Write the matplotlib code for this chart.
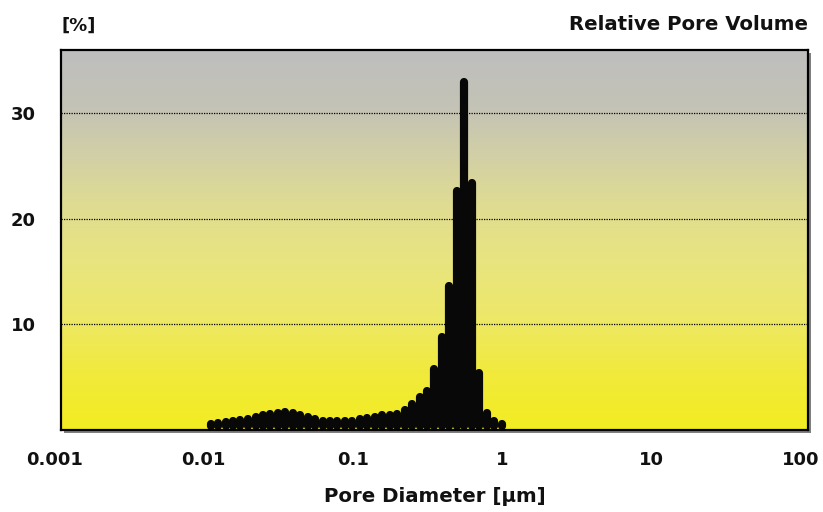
import numpy as np
import matplotlib
matplotlib.use("Agg")
import matplotlib.pyplot as plt
from matplotlib.patches import Rectangle
from matplotlib.transforms import ScaledTranslation

plt.rcParams['font.family'] = ['DejaVu Sans']
plt.rcParams['font.weight'] = 'bold'

# ---- data ----
diameters = [0.0100, 0.0112, 0.0126, 0.0141, 0.0158, 0.0178, 0.0200, 0.0224, 0.0251, 0.0282,
             0.0316, 0.0355, 0.0398, 0.0447, 0.0501, 0.0562, 0.0631, 0.0708, 0.0794, 0.0891,
             0.100, 0.112, 0.126, 0.141, 0.158, 0.178, 0.200, 0.224, 0.251, 0.282,
             0.316, 0.355, 0.398, 0.447, 0.501, 0.562, 0.631, 0.708, 0.794, 0.891, 1.000]
rel_volume = [0.60, 0.66, 0.75, 0.82, 0.92, 1.04, 1.27, 1.39, 1.48, 1.60,
              1.66, 1.60, 1.45, 1.25, 1.00, 0.88, 0.84, 0.82, 0.82, 0.88,
              1.00, 1.17, 1.27, 1.40, 1.40, 1.55, 1.90, 2.50, 3.10, 3.70,
              5.80, 8.80, 13.6, 22.6, 33.0, 23.4, 5.40, 1.60, 0.85, 0.54, 0.38]
x_ticks = [0.001, 0.01, 0.1, 1, 10, 100]
x_tick_labels = ['0.001', '0.01', '0.1', '1', '10', '100']
y_ticks = [10, 20, 30]
y_tick_labels = ['10', '20', '30']

W, H = 823, 512
fig = plt.figure(figsize=(W / 100, H / 100), dpi=100)
fig.patch.set_facecolor('white')

L, R, T, B = 61.3, 807.7, 50.0, 430.0
ax_rect = [L / W, (H - B) / H, (R - L) / W, (B - T) / H]

# shadow behind frame
shadow = Rectangle((ax_rect[0] + 3 / W, ax_rect[1] - 3 / H), ax_rect[2], ax_rect[3],
                   transform=fig.transFigure, facecolor='#808080', edgecolor='none', zorder=-1)
fig.add_artist(shadow)

ax = fig.add_axes(ax_rect)
ax.set_xscale('log')

# gradient background (bottom -> top)
stops = [0.0, 0.15, 0.30, 0.45, 0.58, 0.72, 0.85, 1.0]
cols = np.array([(243, 237, 33), (241, 234, 60), (237, 232, 105), (232, 228, 128),
                 (224, 221, 145), (210, 208, 165), (196, 195, 182), (190, 190, 190)]) / 255.0
n = 400
t = np.linspace(0, 1, n)
grad = np.stack([np.interp(t, stops, cols[:, c]) for c in range(3)], axis=1)[:, None, :]
ax.imshow(grad, extent=(0, 1, 0, 1), transform=ax.transAxes, aspect='auto',
          origin='lower', zorder=0, interpolation='bilinear')

# bars as thick round-capped lines
lw_px = 8.2
r_units = (lw_px / 2) / ((B - T) / 36.0)
lc = ax.vlines(diameters, r_units, rel_volume, colors='#080808', linewidth=lw_px * 0.72, zorder=3)
lc.set_capstyle('round')
lc.set_antialiased(True)

ax.set_xlim(0.001, 100)
ax.set_ylim(0, 36)

ax.set_axisbelow(True)
ax.yaxis.grid(True, linestyle=(0, (1, 1)), color='black', linewidth=0.9)
ax.xaxis.grid(False)

ax.set_xticks(x_ticks)
ax.set_xticklabels(x_tick_labels)
ax.set_xticks([], minor=True)
ax.set_yticks(y_ticks)
ax.set_yticklabels(y_tick_labels)
ax.tick_params(axis='both', which='both', length=0, labelsize=13, labelcolor='#111111')
ax.tick_params(axis='x', pad=15)
ax.tick_params(axis='y', pad=18.5)

for lbl in ax.get_xticklabels():
    lbl.set_fontweight('bold')
    lbl.set_transform(lbl.get_transform() + ScaledTranslation(-0.07, 0, fig.dpi_scale_trans))
for lbl in ax.get_yticklabels():
    lbl.set_fontweight('bold')

for s in ax.spines.values():
    s.set_linewidth(1.6)
    s.set_color('black')
    s.set_zorder(5)

fig.text(L / W, 1 - 26 / H, '[%]', ha='left', va='center', fontsize=13,
         fontweight='bold', color='#111111')
fig.text(R / W, 1 - 24 / H, 'Relative Pore Volume', ha='right', va='center', fontsize=14.2,
         fontweight='bold', color='#111111')
fig.text((L + R) / 2 / W, 1 - 497 / H, 'Pore Diameter [µm]', ha='center', va='center',
         fontsize=14.2, fontweight='bold', color='#111111')

fig.savefig('out.png', dpi=100, facecolor='white')
